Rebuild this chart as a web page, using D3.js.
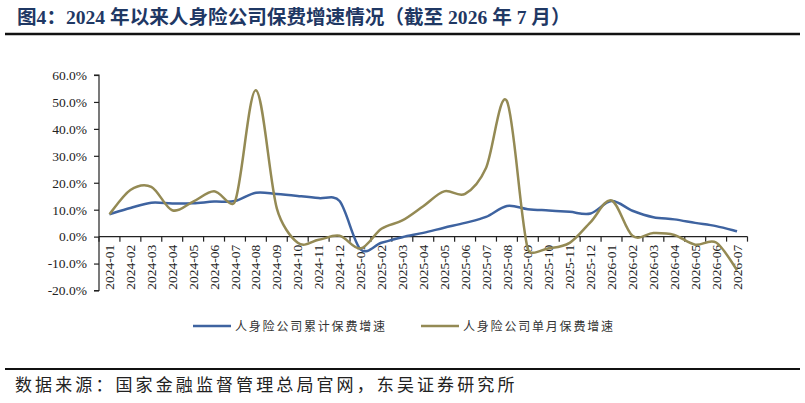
<!DOCTYPE html>
<html><head><meta charset="utf-8">
<script src="https://cdn.jsdelivr.net/npm/d3@7"></script>
<style>html,body{margin:0;padding:0;background:#fff;}svg{display:block;}</style>
</head><body>
<svg id="chart" width="805" height="403"></svg>
<script>
const titleText = "图4：2024 年以来人身险公司保费增速情况（截至 2026 年 7 月）";
const sourceText = "数据来源：国家金融监督管理总局官网，东吴证券研究所";
const seriesNames = ["人身险公司累计保费增速", "人身险公司单月保费增速"];
const seriesColors = ["#3E63A0", "#948A54"];
const months = [
  "2024-01","2024-02","2024-03","2024-04","2024-05","2024-06","2024-07","2024-08","2024-09","2024-10","2024-11","2024-12",
  "2025-01","2025-02","2025-03","2025-04","2025-05","2025-06","2025-07","2025-08","2025-09","2025-10","2025-11","2025-12",
  "2026-01","2026-02","2026-03","2026-04","2026-05","2026-06","2026-07"];
const cumulative = [
  8.3, 10.6, 12.6, 12.3, 12.4, 13.0, 13.2, 16.3, 15.8, 15.1, 14.3, 13.2,
  -4.7, -2.3, -0.2, 1.4, 3.3, 5.1, 7.3, 11.4, 10.2, 9.7, 9.2, 8.6,
  13.2, 9.6, 7.2, 6.4, 5.1, 3.9, 2.0];
const monthly = [
  8.3, 17.3, 18.5, 9.8, 13.0, 16.8, 13.0, 54.3, 10.5, -2.3, -1.2, 0.3,
  -4.4, 2.9, 6.0, 11.3, 16.8, 15.9, 25.5, 50.3, -4.6, -4.3, -2.3, 5.4,
  13.4, 0.3, 1.3, 0.6, -3.0, -2.2, -12.4];
const yTicks = [-20, -10, 0, 10, 20, 30, 40, 50, 60];

const svg = d3.select("#chart");
svg.append("rect").attr("width", 805).attr("height", 403).attr("fill", "#fff");

const latin = "'Liberation Serif','Times New Roman','Noto Sans CJK SC',serif";
const cjk = "'Noto Sans CJK SC','Liberation Serif',sans-serif";

// Title
svg.append("text").attr("x", 17).attr("y", 24)
  .attr("font-family", latin).attr("font-weight", "bold").attr("font-size", 19.6)
  .attr("fill", "#1F3864").text(titleText);
svg.append("line").attr("x1", 5).attr("x2", 800).attr("y1", 34).attr("y2", 34)
  .attr("stroke", "#111").attr("stroke-width", 2.5);

// Scales
const x = d3.scaleBand().domain(months).range([99, 747.5]).padding(0);
const y = d3.scaleLinear().domain([-20, 60]).range([290.5, 75]);
const cx = m => x(m) + x.bandwidth() / 2;

// Y axis
const yAxis = d3.axisLeft(y).tickValues(yTicks).tickSize(5).tickPadding(7)
  .tickFormat(d => d.toFixed(1) + "%");
const gy = svg.append("g").attr("transform", "translate(99,0)").call(yAxis);
gy.select(".domain").attr("stroke", "#222").attr("stroke-width", 1.2).attr("d", `M-5,${y(60)}H0V${y(-20)}H-5`);
gy.selectAll(".tick line").attr("stroke", "#222").attr("stroke-width", 1.2);
gy.selectAll(".tick text").attr("font-family", latin).attr("font-size", 13.5).attr("fill", "#222");

// X axis at zero
const xAxis = d3.axisBottom(x).tickSize(0).tickFormat(d => d);
const gx = svg.append("g").attr("transform", `translate(0,${y(0)})`).call(xAxis);
gx.select(".domain").attr("stroke", "#222").attr("stroke-width", 1.2).attr("d", `M99,0H747.5`);
gx.selectAll(".tick text")
  .attr("font-family", latin).attr("font-size", 13.5).attr("fill", "#222")
  .attr("text-anchor", "end")
  .attr("transform", "rotate(-90)")
  .attr("x", -8).attr("y", 0).attr("dy", "0.34em");
const bounds = months.map(m => x(m)).concat([x(months[months.length - 1]) + x.bandwidth()]);
gx.selectAll("line.bound").data(bounds).enter().append("line")
  .attr("class", "bound").attr("x1", d => d).attr("x2", d => d)
  .attr("y1", 0).attr("y2", 5).attr("stroke", "#222").attr("stroke-width", 1.2);

// Excel-like smoothed line: Catmull-Rom tangents, control arms capped by segment length
function smoothPath(values) {
  const P = values.map((v, i) => [cx(months[i]), y(v)]);
  const n = P.length;
  const T = P.map((p, i) => {
    const a = P[Math.max(0, i - 1)], b = P[Math.min(n - 1, i + 1)];
    return [(b[0] - a[0]) / 2, (b[1] - a[1]) / 2];
  });
  const k = 0.42;
  const arm = (t, L) => {
    let dx = t[0] / 3, dy = t[1] / 3;
    const len = Math.hypot(dx, dy), cap = k * L;
    if (len > cap && len > 0) { dx *= cap / len; dy *= cap / len; }
    return [dx, dy];
  };
  const path = d3.path();
  path.moveTo(P[0][0], P[0][1]);
  for (let i = 0; i < n - 1; i++) {
    const L = Math.hypot(P[i + 1][0] - P[i][0], P[i + 1][1] - P[i][1]);
    const a1 = arm(T[i], L), a2 = arm(T[i + 1], L);
    path.bezierCurveTo(P[i][0] + a1[0], P[i][1] + a1[1],
      P[i + 1][0] - a2[0], P[i + 1][1] - a2[1], P[i + 1][0], P[i + 1][1]);
  }
  return path.toString();
}
[cumulative, monthly].forEach((s, k) => {
  svg.append("path").attr("d", smoothPath(s)).attr("fill", "none")
    .attr("stroke", seriesColors[k]).attr("stroke-width", 2.5).attr("stroke-linejoin", "round");
});

// Legend
const legX = [193, 421];
seriesNames.forEach((n, k) => {
  svg.append("line").attr("x1", legX[k]).attr("x2", legX[k] + 38).attr("y1", 326).attr("y2", 326)
    .attr("stroke", seriesColors[k]).attr("stroke-width", 2.5);
  svg.append("text").attr("x", legX[k] + 42).attr("y", 330.5)
    .attr("font-family", cjk).attr("font-size", 12).attr("letter-spacing", 1.8)
    .attr("fill", "#333").text(n);
});

// Bottom rule + source
svg.append("line").attr("x1", 5).attr("x2", 800).attr("y1", 369).attr("y2", 369)
  .attr("stroke", "#111").attr("stroke-width", 2);
svg.append("text").attr("x", 15).attr("y", 391)
  .attr("font-family", cjk).attr("font-size", 17).attr("letter-spacing", 3.1)
  .attr("fill", "#222").text(sourceText);
</script>
</body></html>
